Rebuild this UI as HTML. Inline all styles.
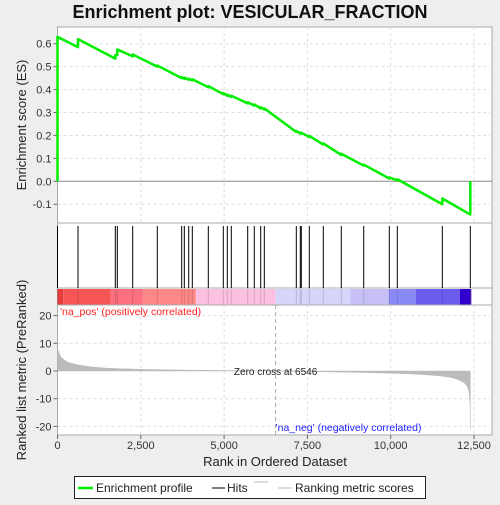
<!DOCTYPE html>
<html><head><meta charset="utf-8">
<style>
body{margin:0;background:#eeeeee;width:500px;height:500px;overflow:hidden;font-family:"Liberation Sans",sans-serif;}
svg text{font-family:"Liberation Sans",sans-serif;}
</style></head>
<body>
<svg id="chart" width="500" height="500" xmlns="http://www.w3.org/2000/svg">
<text x="250" y="18" text-anchor="middle" font-size="18" font-weight="bold" fill="#111">Enrichment plot: VESICULAR_FRACTION</text>
<g id="g"></g>
</svg>
<script>
const hitRanks=[0,615,1735,1795,2257,2995,3727,3806,3938,4046,4526,4976,5096,5216,5708,5906,6098,6207,7167,7287,7317,7557,7977,8517,9190,9958,10198,11549,12389];
const esBefore=[0,0.585,0.535,0.55,0.545,0.50,0.45,0.447,0.443,0.44,0.41,0.38,0.373,0.368,0.34,0.33,0.318,0.313,0.215,0.208,0.207,0.193,0.16,0.115,0.068,0.012,0.004,-0.10,-0.145];
const esAfter=[0.63,0.62,0.55,0.575,0.553,0.505,0.455,0.452,0.448,0.445,0.415,0.385,0.378,0.373,0.345,0.335,0.323,0.318,0.22,0.213,0.212,0.198,0.165,0.12,0.073,0.017,0.009,-0.075,0];
const metricRanks=[0,100,300,600,1000,1500,2500,4000,6546,8000,9000,10000,10500,11000,11500,11800,12000,12200,12300,12350,12380,12390];
const metricVals=[8,5,3.2,2.2,1.5,1.0,0.6,0.3,0,-0.3,-0.5,-0.8,-1.0,-1.3,-1.8,-2.3,-3,-4.2,-5.5,-7.5,-12,-21];
const esTicks=[-0.1,0,0.1,0.2,0.3,0.4,0.5,0.6];
const metricTicks=[-20,-10,0,10,20];
const xTicks=[0,2500,5000,7500,10000,12500];
const xTickLabels=["0","2,500","5,000","7,500","10,000","12,500"];
const barStops=[0,170,1600,2550,4150,6546,8790,9950,10750,12080,12400,12420];
const barColors=["#e83c3c","#f65656","#fd7080","#fe8888","#fcc0e0","#d6d6fa","#c6c0f6","#8a8af6","#6c5cee","#3000cc","#5010b0"];

const L=57.5,R=492,N=12470;
const X=r=>L+r*(416.5/12500);
const Yes=v=>181.3-v*229.3;
const Ym=v=>371-v*2.77;
const g=document.getElementById('g');
const NS='http://www.w3.org/2000/svg';
function mk(t,a,name,parent){const e=document.createElementNS(NS,t);for(const k in a)e.setAttribute(k,a[k]);


(parent||g).appendChild(e);return e;}
// panels
mk('rect',{x:L,y:27,width:R-L,height:196,fill:'#fff',stroke:'#aaa'},'es-panel');
mk('rect',{x:L,y:223,width:R-L,height:65,fill:'#fff',stroke:'#aaa'},'hits-panel');
mk('rect',{x:L,y:288,width:R-L,height:17,fill:'#fff',stroke:'#aaa'},'color-bar-panel');
mk('rect',{x:L,y:305,width:R-L,height:130,fill:'#fff',stroke:'#aaa'},'metric-panel');
// grids
xTicks.forEach((t,i)=>{if(i==0)return;
mk('line',{x1:X(t),x2:X(t),y1:27,y2:223,stroke:'#ddd','stroke-dasharray':'3,3'},'es-x-grid');
mk('line',{x1:X(t),x2:X(t),y1:305,y2:435,stroke:'#ddd','stroke-dasharray':'3,3'},'metric-x-grid');});
esTicks.forEach(t=>{
if(t!==0)mk('line',{x1:L,x2:R,y1:Yes(t),y2:Yes(t),stroke:'#ddd','stroke-dasharray':'3,3'},'es-y-grid');
mk('line',{x1:L-4,x2:L,y1:Yes(t),y2:Yes(t),stroke:'#666'},'es-y-tick');
const tx=mk('text',{x:L-6,y:Yes(t)+4,'text-anchor':'end','font-size':11,fill:'#333'},'es-y-tick-label');tx.textContent=t.toFixed(1);});
mk('line',{x1:L,x2:R,y1:Yes(0),y2:Yes(0),stroke:'#888'},'es-zero-line');
metricTicks.forEach(t=>{
if(t!==0)mk('line',{x1:L,x2:R,y1:Ym(t),y2:Ym(t),stroke:'#ddd','stroke-dasharray':'3,3'},'metric-y-grid');
mk('line',{x1:L-4,x2:L,y1:Ym(t),y2:Ym(t),stroke:'#666'},'metric-y-tick');
const tx=mk('text',{x:L-6,y:Ym(t)+4,'text-anchor':'end','font-size':11,fill:'#333'},'metric-y-tick-label');tx.textContent=t;});
// color bar
for(let i=0;i<barColors.length;i++){mk('rect',{x:X(barStops[i]),y:289,width:X(barStops[i+1])-X(barStops[i]),height:15.5,fill:barColors[i]},'color-bar-segment');}
// hits
hitRanks.forEach(r=>{mk('line',{x1:X(r),x2:X(r),y1:226,y2:288,stroke:'#000','stroke-width':1},'hit-line');
mk('line',{x1:X(r),x2:X(r),y1:289,y2:304,stroke:'rgba(0,0,0,0.15)','stroke-width':1},'hit-bar-mark');});
// ES curve
let d=`M${X(0)},${Yes(0)}`;
hitRanks.forEach((r,i)=>{d+=` L${X(r)},${Yes(esBefore[i])} L${X(r)},${Yes(esAfter[i])}`;});
mk('path',{d:d,fill:'none',stroke:'#00ee00','stroke-width':2.5,'stroke-linejoin':'round'},'enrichment-profile-line');
// metric area
let m=`M${X(0)},${Ym(0)}`;
metricRanks.forEach((r,i)=>{m+=` L${X(r)},${Ym(metricVals[i])}`;});
m+=` L${X(metricRanks[metricRanks.length-1])},${Ym(0)} Z`;
mk('path',{d:m,fill:'#bbb',stroke:'#bbb','stroke-width':0.5},'ranking-metric-area');
mk('line',{x1:X(6546),x2:X(6546),y1:305,y2:435,stroke:'#aaa','stroke-dasharray':'4,3'},'zero-cross-line');
let t=mk('text',{x:X(6546),y:375,'text-anchor':'middle','font-size':10,fill:'#222'},'zero-cross-label');t.textContent='Zero cross at 6546';
t=mk('text',{x:60,y:315,'font-size':10.5,fill:'#ff2020'},'na-pos-label');t.textContent="'na_pos' (positively correlated)";
t=mk('text',{x:X(6546),y:431,'font-size':10.5,fill:'#2020ff'},'na-neg-label');t.textContent="'na_neg' (negatively correlated)";
// x axis
xTicks.forEach((v,i)=>{mk('line',{x1:X(v),x2:X(v),y1:435,y2:439,stroke:'#666'},'x-tick');
const tx=mk('text',{x:X(v),y:449,'text-anchor':'middle','font-size':11,fill:'#333'},'x-tick-label');tx.textContent=xTickLabels[i];});
t=mk('text',{x:275,y:466,'text-anchor':'middle','font-size':13,fill:'#222'},'x-axis-title');t.textContent='Rank in Ordered Dataset';
t=mk('text',{x:0,y:0,'text-anchor':'middle','font-size':13,fill:'#222',transform:'translate(26,125) rotate(-90)'},'es-y-axis-title');t.textContent='Enrichment score (ES)';
t=mk('text',{x:0,y:0,'text-anchor':'middle','font-size':13,fill:'#222',transform:'translate(26,370) rotate(-90)'},'metric-y-axis-title');t.textContent='Ranked list metric (PreRanked)';
// legend
mk('rect',{x:74.5,y:476.5,width:351,height:22,fill:'#fff',stroke:'#222'},'legend');
mk('line',{x1:78,x2:93,y1:488,y2:488,stroke:'#00ee00','stroke-width':2.5},'legend-enrichment-swatch');
t=mk('text',{x:96,y:492,'font-size':12,fill:'#222'},'legend-enrichment-label');t.textContent='Enrichment profile';
mk('line',{x1:212,x2:225,y1:488,y2:488,stroke:'#000'},'legend-hits-swatch');
t=mk('text',{x:227,y:492,'font-size':12,fill:'#222'},'legend-hits-label');t.textContent='Hits';
mk('line',{x1:254,x2:268,y1:482,y2:482,stroke:'#bbb'},'legend-metric-swatch-top');
mk('line',{x1:278,x2:292,y1:488,y2:488,stroke:'#bbb'},'legend-metric-swatch');
t=mk('text',{x:295,y:492,'font-size':12,fill:'#222'},'legend-metric-label');t.textContent='Ranking metric scores';
</script>
</body></html>
